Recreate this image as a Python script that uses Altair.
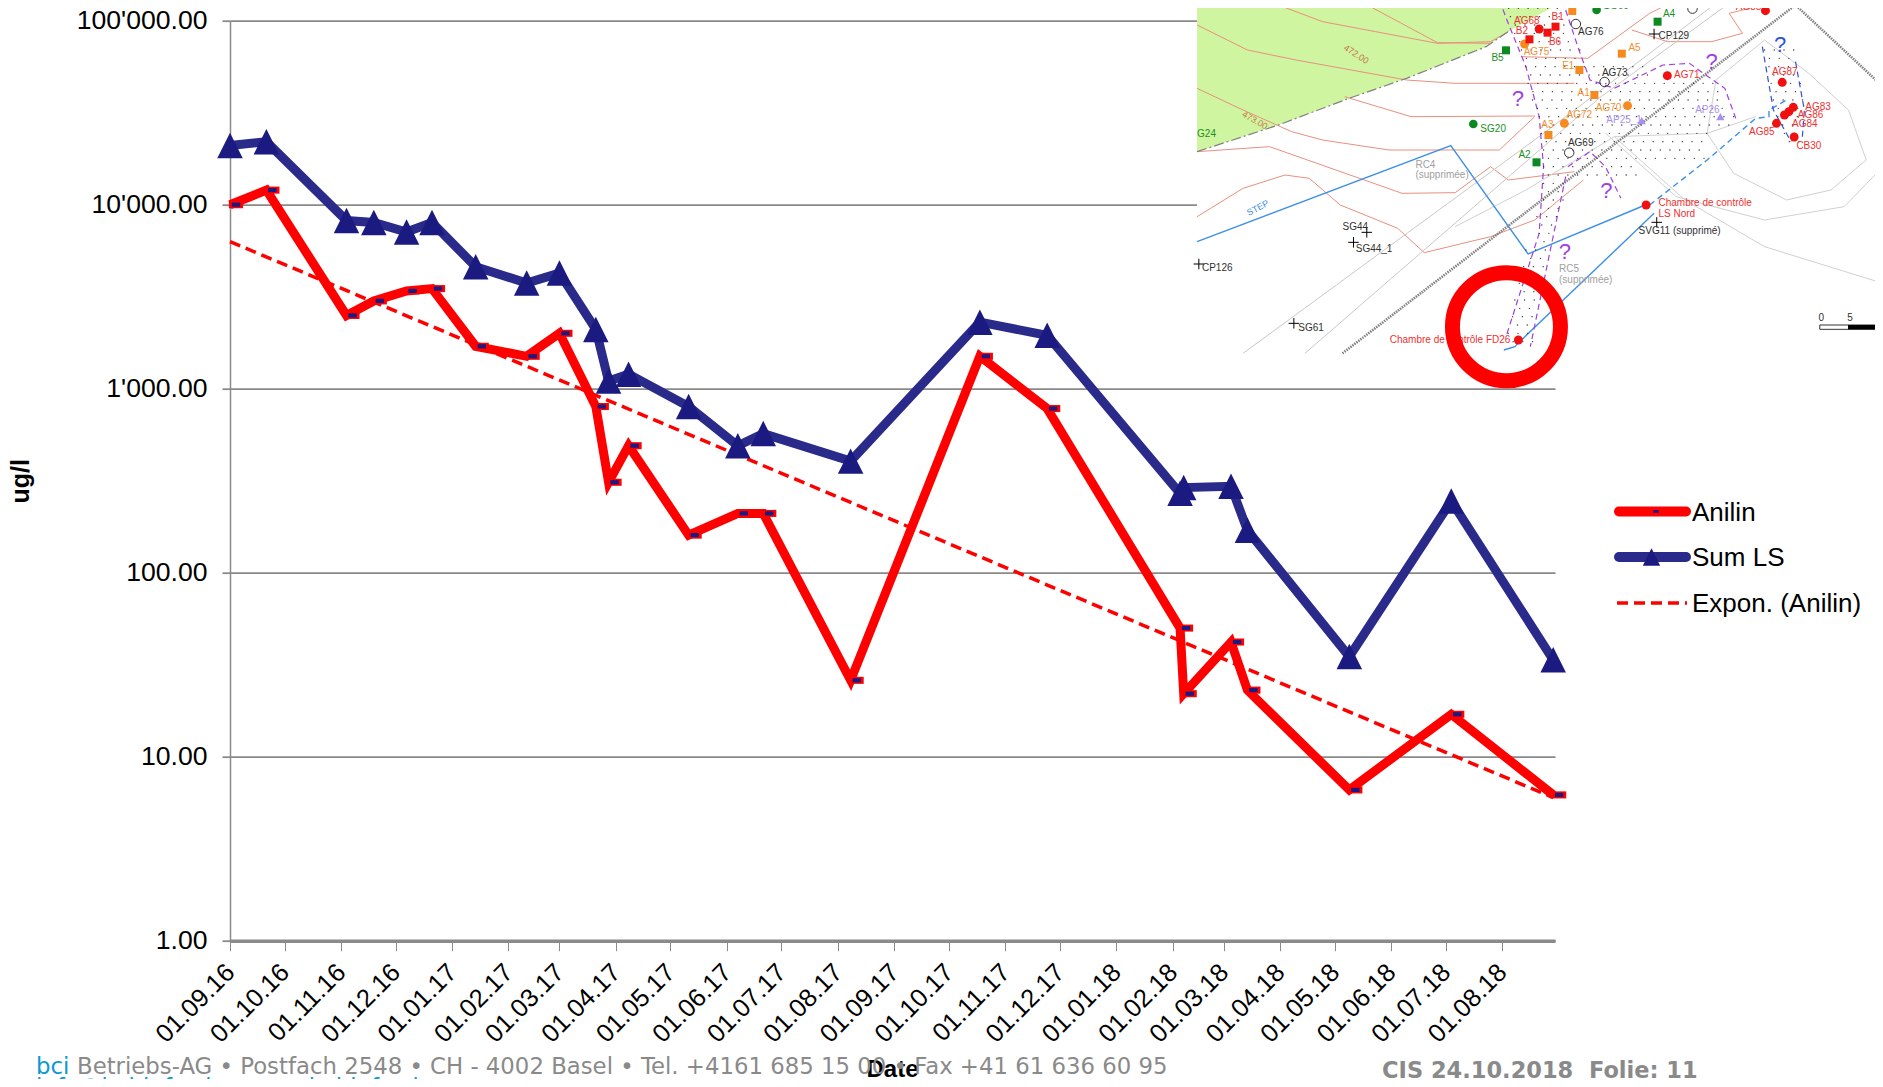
import altair as alt
import pandas as pd

# ---------- chart values ----------
dates_anilin = ["2016-09-01","2016-09-21","2016-11-04","2016-11-19","2016-12-07","2016-12-21","2017-01-14","2017-02-11",
                "2017-03-01","2017-03-21","2017-03-28","2017-04-08","2017-05-11","2017-06-07","2017-06-21","2017-08-08",
                "2017-10-18","2017-11-24","2018-02-05","2018-02-07","2018-03-05","2018-03-14","2018-05-09","2018-07-04","2018-08-29"]
anilin = [10000,12000,2500,3000,3400,3500,1700,1500,2000,800,310,490,160,210,210,26,1500,780,50,22,42,23,6.6,17,6.2]
sum_ls = [21000,22000,8200,8000,7100,8000,4600,3750,4250,2100,1100,1200,800,490,570,404,2300,1950,270,290,295,170,35,245,33.6]
trend_dates = ["2016-09-01","2018-08-29"]
trend = [6300,6.0]
y_ticks = [1,10,100,1000,10000,100000]
x_domain = ["2016-09-01","2018-08-30"]

PX_X = alt.Scale(domain=[230,1555])
PX_Y = alt.Scale(domain=[940.7,20.7])
def mx(z): return 1190+z/2.2626
def my(z): return z/3

FONT="Liberation Sans"
RED="#ff0000"; BLUE="#2a2a8a"; NAVY="#1a1a80"; GRID="#8a8a8a"

# ---------- inset map ----------
map_lines_solid = [
 ("#e8907f",1,[(170,0),(300,65),(420,95),(560,130),(680,125),(720,95)]),
 ("#e8907f",1,[(380,0),(560,128),(680,130)]),
 ("#e8907f",1,[(16,75),(130,150),(240,180),(490,240),(600,250),(870,250)]),
 ("#e8907f",1,[(16,265),(120,330),(230,395),(300,420),(450,450),(700,450),(780,350)]),
 ("#e8907f",1,[(350,290),(500,350),(780,348)]),
 ("#e8907f",1,[(16,650),(120,565),(215,525),(270,535),(340,615),(470,685),(530,758),(680,710),(780,660),(890,540)]),
 ("#e8907f",1,[(16,455),(180,440),(480,580),(600,578),(680,500),(720,540),(870,515)]),
 ("#e8907f",1,[(1000,90),(1080,125),(1180,125),(1250,100),(1220,40),(1340,0)]),
 ("#e8907f",1,[(750,170),(900,175),(1040,40),(1100,0)]),
 ("#c8c8c8",1,[(120,1060),(800,400),(1200,0)]),
 ("#c8c8c8",1,[(260,1060),(930,290),(1230,0)]),
 ("#d0d0d0",1,[(1170,400),(1230,520),(1350,600),(1450,570),(1530,480),(1490,330),(1400,220),(1300,120),(1190,240),(1170,400)]),
 ("#d0d0d0",1,[(960,410),(1120,600),(1300,740),(1568,850)]),
 ("#d0d0d0",1,[(940,400),(1100,590),(1300,660),(1480,620),(1568,500)]),
 ("#d0d0d0",1,[(600,680),(760,570),(960,410),(1170,400),(1280,350)]),
 ("#3f8fe8",1.4,[(16,725),(590,437),(765,762),(1030,615)]),
 ("#3f8fe8",1.4,[(1050,640),(750,1020),(735,1040),(710,1050)]),
]
map_lines_dashed = [
 ("#808080",2.6,[1.5,1],[(345,1060),(1370,15),(1568,260)]),
 ("#a040e0",1.2,[6,4],[(700,0),(720,70),(760,200),(790,350),(800,500),(790,700),(715,1010)]),
 ("#a040e0",1.2,[6,4],[(850,30),(880,150),(905,240),(960,265),(1070,195),(1130,190),(1210,265),(1235,355)]),
 ("#a040e0",1.2,[6,4],[(855,500),(905,455),(940,500),(975,595)]),
 ("#a040e0",1.2,[6,4],[(850,530),(820,720),(770,1040)]),
 ("#3f8fe8",1.4,[6,4],[(1040,615),(1170,480),(1280,355),(1310,350),(1310,330),(1350,300)]),
 ("#3050e0",1.2,[6,4],[(1295,140),(1320,330),(1360,425)]),
 ("#3050e0",1.2,[6,4],[(1370,185),(1390,330),(1385,420)]),
 ("#808080",1.2,[10,3,2,3],[(16,455),(200,375),(360,295),(490,235),(670,140),(720,95)]),
]
green_poly = [(16,0),(850,0),(720,95),(670,140),(490,235),(360,295),(200,375),(16,455)]
stipple_rows = [(0,710,840),(50,725,850),(100,735,860),(150,750,885),(200,760,1040),(250,765,1200),(300,775,1215),
 (350,790,1235),(400,795,1170),(450,800,1170),(500,800,1020),(550,800,850),(600,800,850),(650,785,830),(700,790,820),
 (750,760,810),(800,755,800),(850,745,800),(900,735,790),(950,730,785),(1000,720,780),
 (150,1300,1370),(200,1310,1375),(250,1315,1385),(300,1320,1390),(350,1330,1385),(400,1345,1385)]
map_red_c = [(745,10),(790,87),(1302,32),(1080,227),(1340,247),(1327,370),(1367,411),(1032,615),(743,1020),(1345,345),(1355,335),(1365,322)]
map_orange_c = [(757,132),(990,317),(847,370)]
map_green_c = [(920,30),(641,372)]
map_open_c = [(1137,26),(873,72),(938,246),(858,458)]
map_red_s = [(827,80),(809,98),(768,118)]
map_orange_s = [(865,33),(977,161),(881,210),(915,285),(811,405)]
map_green_s = [(1058,65),(715,151),(784,487)]
map_plus = [(1050,102),(400,697),(370,727),(20,792),(1056,667),(235,970)]
map_tri = [(1022,362),(1200,350)]
R="#f03030"; O="#f09030"; G="#209020"; K="#303030"; Y="#a0a0a0"; P="#a890f0"
map_labels = [
 ("AG68",733,62,R),("B1",818,52,R),("B2",737,92,R),("B6",812,126,R),("AG88",1235,22,R),("AG71",1095,225,R),("AG87",1317,217,R),
 ("AG83",1392,320,R),("AG86",1375,346,R),("AG84",1362,373,R),("AG85",1265,397,R),("CB30",1372,437,R),
 ("Chambre de contrôle",1060,608,R),("LS Nord",1060,641,R),("Chambre de contrôle FD26",452,1019,R),
 ("AG75",755,157,O),("A5",992,145,O),("E1",842,197,O),("A1",877,280,O),("AG70",918,323,O),("AG72",852,344,O),("A3",795,375,O),("B3",880,8,O),
 ("SG60",935,18,G),("A4",1070,41,G),("B5",682,173,G),("SG20",657,388,G),("A2",743,465,G),("G24",16,402,G),
 ("AG76",878,97,K),("CP129",1060,109,K),("AG73",932,219,K),("AG69",855,430,K),("SG44",345,680,K),("SG44_1",375,748,K),
 ("CP126",27,805,K),("SVG11 (supprimé)",1015,692,K),("SG61",245,983,K),
 ("RC4",510,494,Y),("(supprimée)",510,525,Y),("RC5",835,808,Y),("(supprimée)",835,840,Y),
 ("AP25_1",942,360,P),("AP26",1143,330,P),("0",1422,955,K),("5",1487,955,K),("10",1549,955,K),
]
map_questions = [(742,297,"#a040e0"),(1180,185,"#a040e0"),(942,572,"#a040e0"),(848,757,"#a040e0"),(1335,135,"#3050e0")]
map_angled = [("STEP",130,640,-28,"#3f8fe8"),("472.00",350,140,33,"#c87850"),("473.00",120,340,30,"#c87850")]
scale_bar = [(1425,975,1490,988,"#ffffff"),(1490,975,1558,988,"#000000"),(1558,975,1568,988,"#ffffff")]
ring = [(716,980)]

# legend and footer, in picture coordinates
legend_text = [("Anilin",1692,521),("Sum LS",1692,566),("Expon. (Anilin)",1692,612)]
footer = [("bci",36,1074,"#0a9ad0",22.8,"normal"),
          ("Betriebs-AG • Postfach 2548 • CH - 4002 Basel • Tel. +4161 685 15 00 • Fax +41 61 636 60 95",77,1074,"#8a8a8a",22.8,"normal"),
          ("info@bci-info.ch • www.bci-info.ch",36,1095,"#0a9ad0",22.8,"normal"),
          ("CIS 24.10.2018\u00a0\u00a0Folie: 11",1382,1078,"#8a8a8a",22.5,"bold")]

# ---------- frames ----------
main = pd.DataFrame({"d":dates_anilin,"anilin":anilin,"sum":sum_ls})
tr = pd.DataFrame({"d":trend_dates,"v":trend})

def px_enc(**kw):
    return dict(x=alt.X("x:Q",scale=PX_X,axis=None),y=alt.Y("y:Q",scale=PX_Y,axis=None),**kw)
def pts(lst): return pd.DataFrame({"x":[mx(p[0]) for p in lst],"y":[my(p[1]) for p in lst]})

X = alt.X("d:T",title="Date",scale=alt.Scale(domain=x_domain),
    axis=alt.Axis(format="%d.%m.%y",tickCount=alt.TimeIntervalStep(interval="month",step=1),grid=False,
      labelAngle=-45,labelAlign="right",labelBaseline="middle",labelFontSize=25.5,labelFont=FONT,labelColor="#000",labelPadding=17,labelOverlap=False,labelFlush=False,
      tickColor=GRID,tickSize=10,tickWidth=1,domainColor=GRID,domainWidth=3.5,
      titleFont=FONT,titleFontSize=24,titleFontWeight="bold",titleColor="#000",titleX=662,titleY=136,titleBaseline="alphabetic",titleAnchor="middle"))
XN = alt.X("d:T",scale=alt.Scale(domain=x_domain),axis=None)
Y_SCALE = alt.Scale(type="log",base=10,domain=[1,100000])
def yn(f): return alt.Y(f,scale=Y_SCALE,axis=None)

base_axes = alt.Chart(main).mark_line(opacity=0).encode(
    x=X,
    y=alt.Y("sum:Q",title="ug/l",scale=Y_SCALE,
      axis=alt.Axis(values=y_ticks,labelExpr="replace(format(datum.value,',.2f'),',',\"'\")",
        grid=True,gridColor=GRID,gridWidth=1.8,labelFontSize=26.6,labelFont=FONT,labelColor="#000",labelPadding=15,
        tickColor=GRID,tickSize=8,tickWidth=1.8,domainColor=GRID,domainWidth=1.5,
        titleFont=FONT,titleFontSize=25,titleFontWeight="bold",titleColor="#000",titleX=-197,titleY=460,titleAngle=-90,titleAnchor="middle")))

blue_line = alt.Chart(main).mark_line(color=BLUE,strokeWidth=9).encode(x=XN,y=yn("sum:Q"))
trend_line = alt.Chart(tr).mark_line(color=RED,strokeWidth=3.5,strokeDash=[11,6]).encode(x=XN,y=yn("v:Q"))
red_line = alt.Chart(main).mark_line(color=RED,strokeWidth=9).encode(x=XN,y=yn("anilin:Q"))
TRI="M0,-1L1,1L-1,1Z"
BAR="M-1,-0.5L1,-0.5L1,0.5L-1,0.5Z"
tri_pts = alt.Chart(main).mark_point(filled=True,opacity=1,color=NAVY,shape=TRI,size=650).encode(x=XN,y=yn("sum:Q"))
red_pts = alt.Chart(main).mark_point(filled=True,opacity=1,color=RED,shape=BAR,size=200,xOffset=6).encode(x=XN,y=yn("anilin:Q"))
dash_pts = alt.Chart(main).mark_point(filled=True,opacity=1,color=NAVY,shape=BAR,size=70,xOffset=6).encode(x=XN,y=yn("anilin:Q"))

# map layers
def rects(rows):
    return pd.DataFrame([{"x":mx(a),"x2":mx(c),"y":my(b),"y2":my(d),"c":col} for a,b,c,d,col in rows])
white = alt.Chart(pd.DataFrame({"x":[1197.0],"x2":[1883.0],"y":[0.0],"y2":[353.0]})).mark_rect(color="#ffffff").encode(
    x=alt.X("x:Q",scale=PX_X,axis=None),x2="x2:Q",y=alt.Y("y:Q",scale=PX_Y,axis=None),y2="y2:Q")
gp = pts(green_poly); gp["i"]=range(len(gp))
green = alt.Chart(gp).mark_line(filled=True,color="#cff5a0",stroke=None).encode(order="i:Q",**px_enc())

def lines_frame(rows):
    out=[]
    for k,row in enumerate(rows):
        pl=row[-1]
        for i,p in enumerate(pl):
            out.append({"k":k,"i":i,"x":mx(p[0]),"y":my(p[1]),"c":row[0],"w":row[1]})
    return pd.DataFrame(out)
solid = alt.Chart(lines_frame(map_lines_solid)).mark_line().encode(
    detail="k:N",order="i:Q",color=alt.Color("c:N",scale=None),strokeWidth=alt.StrokeWidth("w:Q",scale=None),**px_enc())
dash_layers=[]
for row in map_lines_dashed:
    df=lines_frame([(row[0],row[1],row[3])])
    dash_layers.append(alt.Chart(df).mark_line(strokeDash=row[2],color=row[0],strokeWidth=row[1]).encode(order="i:Q",**px_enc()))

stip=[]
for zy,a,b in stipple_rows:
    for off,yy in ((0,zy),(11,zy+25)):
        z=a+off
        while z<b:
            stip.append((z,yy)); z+=22
stip_l = alt.Chart(pts(stip)).mark_point(filled=True,opacity=1,color="#333333",size=2).encode(**px_enc())

def sym(lst,color,shape,size,filled=True,sw=1):
    return alt.Chart(pts(lst)).mark_point(filled=filled,opacity=1,color=color,shape=shape,size=size,strokeWidth=sw).encode(**px_enc())
plus = alt.Chart(pts(map_plus)).mark_point(opacity=1,color="#000",shape="M-1,0L1,0M0,-1L0,1",size=110,strokeWidth=1).encode(**px_enc())
syms=[sym(map_red_c,"#f01010","circle",80),sym(map_orange_c,"#f78a1e","circle",80),sym(map_green_c,"#0a8a20","circle",75),
      sym(map_open_c,"#333333","circle",90,False,1),sym(map_red_s,"#f01010","square",64),sym(map_orange_s,"#f78a1e","square",64),
      sym(map_green_s,"#0a8a20","square",64),plus,sym(map_tri,"#a890f0","triangle-up",70)]

lab=pd.DataFrame([{"t":t,"x":mx(a),"y":my(b),"c":c} for t,a,b,c in map_labels])
labels=alt.Chart(lab).mark_text(align="left",baseline="middle",font=FONT,fontSize=10).encode(text="t:N",color=alt.Color("c:N",scale=None),**px_enc())
qs=pd.DataFrame([{"x":mx(a),"y":my(b),"c":c,"t":"?"} for a,b,c in map_questions])
q_l=alt.Chart(qs).mark_text(font=FONT,fontSize=22,baseline="middle").encode(text="t:N",color=alt.Color("c:N",scale=None),**px_enc())
ang=[]
for t,a,b,deg,c in map_angled:
    angle=deg%360
    ang.append(alt.Chart(pd.DataFrame({"t":[t],"x":[mx(a)],"y":[my(b)]})).mark_text(font=FONT,fontSize=9,angle=angle,align="left",baseline="middle",color=c).encode(text="t:N",**px_enc()))
bar=alt.Chart(rects(scale_bar)).mark_rect(stroke="#000",strokeWidth=0.8).encode(
    x=alt.X("x:Q",scale=PX_X,axis=None),x2="x2:Q",y=alt.Y("y:Q",scale=PX_Y,axis=None),y2="y2:Q",color=alt.Color("c:N",scale=None))
ring_l=alt.Chart(pts(ring)).mark_point(filled=False,opacity=1,color=RED,strokeWidth=15,size=11664,shape="circle").encode(**px_enc())

# legend drawn in picture coordinates
def seg(x0,x1,y): return pd.DataFrame({"x":[x0,x1],"y":[y,y]})
leg=[alt.Chart(seg(1619,1686,511.5)).mark_line(color=RED,strokeWidth=10,strokeCap="round").encode(**px_enc()),
     alt.Chart(seg(1619,1686,557)).mark_line(color=BLUE,strokeWidth=10,strokeCap="round").encode(**px_enc()),
     alt.Chart(seg(1617,1687,603)).mark_line(color=RED,strokeWidth=3.5,strokeDash=[11,6]).encode(**px_enc()),
     alt.Chart(pd.DataFrame({"x":[1651.5],"y":[557.0]})).mark_point(filled=True,opacity=1,color=NAVY,shape=TRI,size=300).encode(**px_enc()),
     alt.Chart(pd.DataFrame({"x":[1656.0],"y":[511.5]})).mark_point(filled=True,opacity=1,color=NAVY,shape=BAR,size=30).encode(**px_enc()),
     alt.Chart(pd.DataFrame(legend_text,columns=["t","x","y"])).mark_text(align="left",baseline="alphabetic",font=FONT,fontSize=26,color="#000").encode(text="t:N",**px_enc())]

foot=[]
for t,a,b,c,s,w in footer:
    foot.append(alt.Chart(pd.DataFrame({"t":[t],"x":[a],"y":[b]})).mark_text(align="left",baseline="alphabetic",font="DejaVu Sans",fontSize=s,fontWeight=w,color=c).encode(text="t:N",**px_enc()))

layers=foot+[base_axes,blue_line,trend_line,red_line,tri_pts,red_pts,dash_pts,white,green,solid]+dash_layers+[stip_l]+syms+[labels,q_l]+ang+[bar,ring_l]+leg

chart=alt.layer(*layers).resolve_scale(x="independent",y="independent").properties(
    width=1325,height=920,autosize=alt.AutoSizeParams(type="none"),
    padding={"left":222,"top":12.7,"right":320,"bottom":138.3},background="#ffffff"
).configure_view(stroke=None)

chart.save("out.html",embed_options={"renderer":"svg","actions":False})
